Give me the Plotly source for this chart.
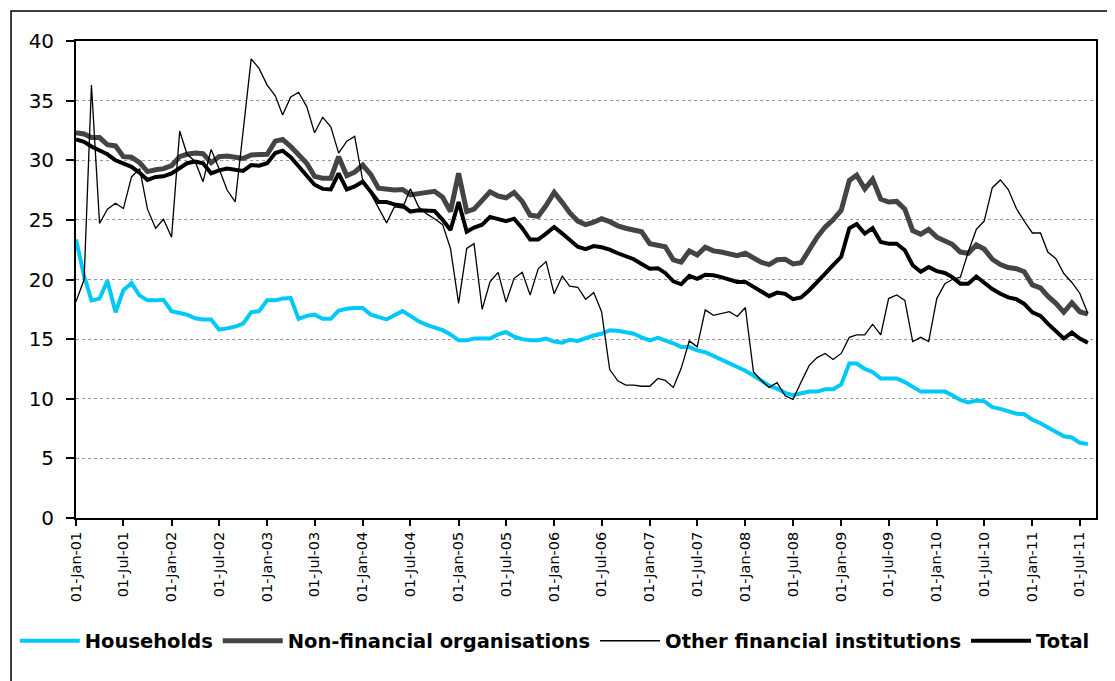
import pandas as pd
import plotly.graph_objects as go

# Monthly observations, Jan 2001 - Aug 2011
dates = pd.date_range("2001-01-01", periods=128, freq="MS")

households = [
    23.35, 20.3, 18.25, 18.4, 19.9, 17.25, 19.1, 19.7, 18.65, 18.25,
    18.25, 18.3, 17.35, 17.2, 17.05, 16.75, 16.65, 16.65, 15.8, 15.9,
    16.05, 16.3, 17.25, 17.35, 18.25, 18.25, 18.4, 18.45, 16.7, 16.95,
    17.05, 16.7, 16.7, 17.4, 17.55, 17.6, 17.6, 17.05, 16.85, 16.65,
    17.0, 17.35, 16.95, 16.5, 16.2, 15.95, 15.75, 15.4, 14.9, 14.9,
    15.05, 15.05, 15.05, 15.4, 15.6, 15.2, 15.0, 14.9, 14.9, 15.05,
    14.8, 14.7, 14.95, 14.85, 15.1, 15.3, 15.45, 15.75, 15.7, 15.6,
    15.45, 15.15, 14.9, 15.1, 14.9, 14.65, 14.35, 14.35, 14.05, 13.9,
    13.6, 13.3, 12.95, 12.65, 12.35, 11.95, 11.55, 11.1, 10.85, 10.5,
    10.3, 10.45, 10.6, 10.6, 10.8, 10.8, 11.2, 12.95, 12.95, 12.5,
    12.25, 11.7, 11.7, 11.7, 11.4, 11.0, 10.6, 10.6, 10.6, 10.6,
    10.3, 9.9, 9.7, 9.85, 9.8, 9.3, 9.15, 8.95, 8.75, 8.7,
    8.25, 7.95, 7.6, 7.25, 6.85, 6.75, 6.3, 6.2,
]

non_financial = [
    32.3, 32.2, 31.9, 31.9, 31.3, 31.2, 30.3, 30.25, 29.8, 29.05,
    29.2, 29.3, 29.55, 30.3, 30.5, 30.6, 30.55, 29.8, 30.3, 30.35,
    30.25, 30.15, 30.45, 30.45, 30.5, 31.6, 31.75, 31.15, 30.5, 29.75,
    28.65, 28.5, 28.5, 30.3, 28.7, 29.0, 29.6, 28.8, 27.65, 27.55,
    27.5, 27.55, 27.1, 27.2, 27.25, 27.4, 26.9, 25.7, 28.9, 25.7,
    25.9, 26.6, 27.35, 27.0, 26.85, 27.3, 26.55, 25.4, 25.3, 26.2,
    27.3, 26.45, 25.6, 24.9, 24.6, 24.8, 25.1, 24.85, 24.5, 24.3,
    24.2, 24.0, 23.0, 22.9, 22.75, 21.65, 21.45, 22.4, 22.05, 22.7,
    22.4, 22.3, 22.1, 22.0, 22.2, 21.8, 21.45, 21.25, 21.65, 21.7,
    21.3, 21.4, 22.55, 23.55, 24.4, 25.0, 25.8, 28.3, 28.75, 27.6,
    28.4, 26.75, 26.5, 26.55, 25.9, 24.1, 23.8, 24.2, 23.55, 23.25,
    22.95, 22.3, 22.2, 22.9, 22.55, 21.7, 21.25, 21.0, 20.9, 20.65,
    19.55, 19.3, 18.6, 18.0, 17.25, 18.05, 17.3, 17.1,
]

other_financial = [
    18.15, 20.0, 36.3, 24.7, 25.9, 26.4, 25.95, 28.6, 29.3, 25.9,
    24.3, 25.05, 23.55, 32.45, 30.5, 29.9, 28.2, 30.9, 29.3, 27.5,
    26.5, 32.5, 38.5, 37.7, 36.3, 35.4, 33.8, 35.3, 35.7, 34.5,
    32.3, 33.6, 32.8, 30.6, 31.6, 32.0, 28.3, 27.2, 26.0, 24.75,
    26.1, 26.0, 27.6, 26.1, 25.5, 25.1, 24.6, 22.6, 18.0, 22.6,
    23.0, 17.5, 19.8, 20.6, 18.1, 20.1, 20.6, 18.7, 20.9, 21.5,
    18.8, 20.3, 19.45, 19.35, 18.35, 18.9, 17.3, 12.45, 11.5, 11.15,
    11.15, 11.05, 11.05, 11.7, 11.55, 10.95, 12.55, 14.85, 14.35, 17.45,
    17.0, 17.15, 17.3, 16.9, 17.65, 12.25, 11.55, 10.95, 11.35, 10.25,
    9.95, 11.4, 12.8, 13.45, 13.8, 13.3, 13.8, 15.15, 15.35, 15.35,
    16.25, 15.35, 18.4, 18.7, 18.25, 14.8, 15.15, 14.8, 18.4, 19.65,
    20.0, 20.2, 22.3, 24.2, 24.9, 27.7, 28.35, 27.55, 25.95, 24.9,
    23.9, 23.9, 22.3, 21.75, 20.5, 19.75, 18.85, 17.15,
]

total = [
    31.75, 31.55, 31.15, 30.85, 30.5, 30.0, 29.7, 29.45, 28.95, 28.35,
    28.6, 28.65, 28.9, 29.4, 29.75, 29.9, 29.75, 28.9, 29.15, 29.3,
    29.2, 29.1, 29.6, 29.55, 29.75, 30.6, 30.8, 30.25, 29.5, 28.7,
    27.95, 27.6, 27.55, 28.9, 27.55, 27.8, 28.2, 27.35, 26.5, 26.5,
    26.3, 26.2, 25.7, 25.8, 25.8, 25.75, 25.0, 24.15, 26.5, 24.0,
    24.35, 24.6, 25.25, 25.1, 24.9, 25.1, 24.3, 23.35, 23.35, 23.85,
    24.4, 23.85, 23.3, 22.75, 22.55, 22.8, 22.7, 22.5, 22.2, 21.95,
    21.7, 21.3, 20.9, 20.95, 20.55, 19.85, 19.6, 20.3, 20.05, 20.4,
    20.35, 20.2, 20.0, 19.8, 19.8, 19.4, 19.05, 18.6, 18.9, 18.8,
    18.35, 18.5, 19.1, 19.85, 20.5, 21.2, 21.9, 24.3, 24.65, 23.85,
    24.3, 23.15, 23.0, 23.0, 22.45, 21.2, 20.65, 21.05, 20.7, 20.55,
    20.2, 19.65, 19.65, 20.25, 19.75, 19.2, 18.8, 18.5, 18.35, 17.95,
    17.25, 16.95, 16.3, 15.65, 15.05, 15.55, 15.05, 14.7,
]

series_names = ["Households", "Non-financial organisations",
                "Other financial institutions", "Total"]

tick_dates = pd.date_range("2001-01-01", "2011-07-01", freq="6MS")
tick_labels = [d.strftime("%d-%b-%y") for d in tick_dates]
y_ticks = [0, 5, 10, 15, 20, 25, 30, 35, 40]

FONT = "DejaVu Sans"

fig = go.Figure()
styles = [
    dict(color="#00C8F8", width=4),
    dict(color="#444444", width=5),
    dict(color="#000000", width=1.3),
    dict(color="#000000", width=4),
]
for name, vals, st in zip(series_names,
                          [households, non_financial, other_financial, total],
                          styles):
    fig.add_trace(go.Scatter(x=dates, y=vals, mode="lines", name=name,
                             line=dict(color=st["color"], width=st["width"]),
                             hoverinfo="x+y+name"))

# outer chart border (extends beyond the visible page, as in the reference)
fig.add_shape(type="rect", xref="paper", yref="paper",
              x0=-0.0637, x1=1.3, y0=-0.6, y1=1.0629,
              line=dict(color="black", width=1.5), fillcolor="rgba(0,0,0,0)",
              layer="below")

fig.update_layout(
    width=1107, height=673,
    margin=dict(l=68, r=19, t=33, b=163, autoexpand=False),
    paper_bgcolor="white", plot_bgcolor="white",
    font=dict(family=FONT, color="black"),
    showlegend=True,
    legend=dict(orientation="h", x=-0.060, xanchor="left",
                y=-0.258, yanchor="middle",
                font=dict(family=FONT, size=19.5, color="black", weight="bold"),
                itemwidth=60, traceorder="normal",
                bgcolor="rgba(0,0,0,0)"),
    xaxis=dict(type="date", range=["2001-01-01", "2011-09-01"],
               tickvals=tick_dates, ticktext=tick_labels, tickangle=-90,
               ticks="outside", ticklen=6, tickcolor="black", tickwidth=1.5,
               tickfont=dict(family=FONT, size=14.5, color="black"),
               showgrid=False, zeroline=False,
               showline=True, linecolor="black", linewidth=1.8, mirror=True),
    yaxis=dict(range=[0, 40], tickvals=y_ticks,
               ticks="outside", ticklen=8, tickcolor="black", tickwidth=1.5,
               tickfont=dict(family=FONT, size=20, color="black"),
               ticklabelstandoff=8,
               showgrid=True, gridcolor="#999999", gridwidth=1, griddash="dot",
               zeroline=False,
               showline=True, linecolor="black", linewidth=1.8, mirror=True),
)

fig.write_html("out.html")
